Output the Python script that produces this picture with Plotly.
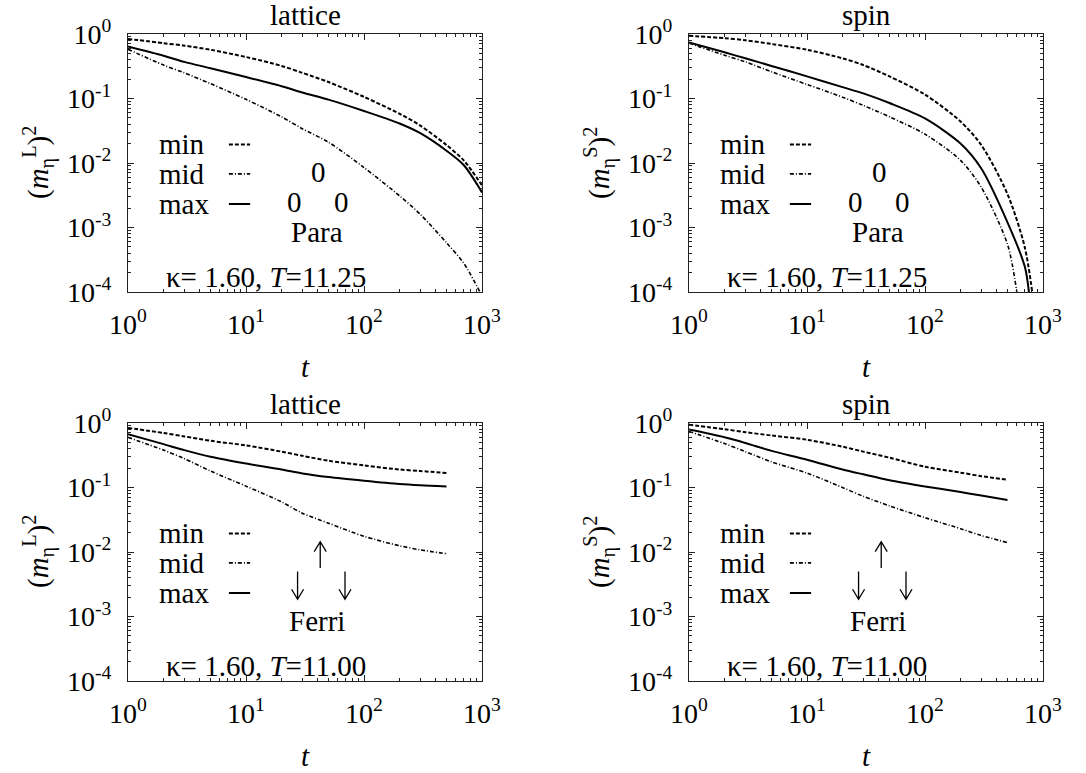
import plotly.graph_objects as go

# time steps (t) and squared order parameters
t_para = [1, 2, 3, 5, 10, 20, 30, 50, 100, 200, 300, 500, 700, 1000]
lat_para_min = [0.84, 0.72, 0.66, 0.57, 0.44, 0.32, 0.25, 0.18, 0.106, 0.058, 0.038, 0.019, 0.011, 0.0045]
lat_para_max = [0.64, 0.46, 0.37, 0.295, 0.215, 0.155, 0.124, 0.096, 0.064, 0.041, 0.029, 0.0155, 0.0093, 0.0035]
t_lat_para_mid = [1, 2, 3, 5, 10, 20, 30, 50, 100, 200, 300, 500, 700, 960]
lat_para_mid = [0.58, 0.33, 0.25, 0.17, 0.097, 0.052, 0.034, 0.021, 0.0085, 0.0031, 0.0016, 0.00058, 0.00028, 0.0001]

t_spin_para_min = [1, 2, 3, 5, 10, 20, 30, 50, 100, 200, 300, 500, 700, 810]
spin_para_min = [0.94, 0.86, 0.8, 0.7, 0.57, 0.42, 0.33, 0.22, 0.115, 0.044, 0.019, 0.0033, 0.0005, 0.0001]
t_spin_para_max = [1, 2, 3, 5, 10, 20, 30, 50, 100, 200, 300, 500, 700, 760]
spin_para_max = [0.74, 0.52, 0.42, 0.32, 0.22, 0.15, 0.12, 0.085, 0.049, 0.02, 0.0082, 0.0012, 0.00025, 0.0001]
t_spin_para_mid = [1, 2, 3, 5, 10, 20, 30, 50, 100, 200, 300, 500, 600]
spin_para_mid = [0.72, 0.47, 0.37, 0.26, 0.165, 0.105, 0.078, 0.052, 0.028, 0.011, 0.0042, 0.00055, 0.0001]

t_ferri = [1, 2, 3, 5, 10, 20, 30, 50, 100, 200, 300, 500]
lat_ferri_min = [0.84, 0.7, 0.62, 0.53, 0.45, 0.36, 0.31, 0.26, 0.22, 0.19, 0.18, 0.168]
lat_ferri_max = [0.67, 0.47, 0.38, 0.3, 0.235, 0.19, 0.165, 0.145, 0.127, 0.113, 0.108, 0.104]
lat_ferri_mid = [0.6, 0.38, 0.28, 0.18, 0.105, 0.06, 0.04, 0.028, 0.0175, 0.0125, 0.0108, 0.0094]
spin_ferri_min = [0.94, 0.8, 0.72, 0.64, 0.55, 0.43, 0.36, 0.29, 0.21, 0.17, 0.15, 0.132]
spin_ferri_max = [0.79, 0.6, 0.49, 0.37, 0.27, 0.19, 0.16, 0.13, 0.104, 0.085, 0.075, 0.064]
spin_ferri_mid = [0.74, 0.48, 0.36, 0.25, 0.167, 0.1, 0.073, 0.052, 0.034, 0.023, 0.018, 0.014]

x_ticks = [1, 10, 100, 1000]
x_ticktext = ["10<sup>0</sup>", "10<sup>1</sup>", "10<sup>2</sup>", "10<sup>3</sup>"]
y_ticks = [1, 0.1, 0.01, 0.001, 0.0001]
y_ticktext = ["10<sup>0</sup>", "10<sup>-1</sup>", "10<sup>-2</sup>", "10<sup>-3</sup>", "10<sup>-4</sup>"]
x_minor = [m * 10 ** d for d in range(3) for m in range(2, 10)]
y_minor = [m * 10.0 ** d for d in range(-4, 0) for m in range(2, 10)]

FONT = "Liberation Serif"
styles = {
    "min": dict(color="black", width=2, dash="4px,2px"),
    "mid": dict(color="black", width=1.6, dash="4px,2px,1px,2px"),
    "max": dict(color="black", width=2),
}

panels = [
    # (axis suffix, title, y-label letter, phase, T, series)
    ("", "lattice", "L", "Para", "11.25",
     [(t_para, lat_para_min, "min"), (t_lat_para_mid, lat_para_mid, "mid"), (t_para, lat_para_max, "max")]),
    ("2", "spin", "S", "Para", "11.25",
     [(t_spin_para_min, spin_para_min, "min"), (t_spin_para_mid, spin_para_mid, "mid"), (t_spin_para_max, spin_para_max, "max")]),
    ("3", "lattice", "L", "Ferri", "11.00",
     [(t_ferri, lat_ferri_min, "min"), (t_ferri, lat_ferri_mid, "mid"), (t_ferri, lat_ferri_max, "max")]),
    ("4", "spin", "S", "Ferri", "11.00",
     [(t_ferri, spin_ferri_min, "min"), (t_ferri, spin_ferri_mid, "mid"), (t_ferri, spin_ferri_max, "max")]),
]

W, H = 1086, 773
PW, PH = 354, 258  # plot box size in px
x_domains = [[128 / W, 482 / W], [689 / W, 1043 / W]]
y_domains = [[1 - 292 / H, 1 - 34 / H], [1 - 681 / H, 1 - 423 / H]]

fig = go.Figure()
annotations = []
shapes = []
layout = {}


def label(text, xref, yref, x, y, font, **kw):
    d = dict(text=text, xref=xref, yref=yref, x=x, y=y, showarrow=False, font=font,
             xanchor="center", yanchor="middle")
    d.update(kw)
    annotations.append(d)


def arrow(xd, yd, x, y_tail, y_tip):
    # thin arrow glyph drawn as a path in the panel's domain coordinates
    hx, hy = 6 / PW, 10 / PH
    hy = hy if y_tip < y_tail else -hy
    path = "M %f,%f L %f,%f M %f,%f L %f,%f L %f,%f" % (
        x, y_tail, x, y_tip, x - hx, y_tip + hy, x, y_tip, x + hx, y_tip + hy)
    shapes.append(dict(type="path", xref=xd, yref=yd, path=path, line=dict(color="black", width=1.3)))


for i, (sfx, title, letter, phase, temp, series) in enumerate(panels):
    col, row = i % 2, i // 2
    xa, ya = "x" + sfx, "y" + sfx
    for tt, mm, name in series:
        fig.add_trace(go.Scatter(x=tt, y=mm, mode="lines", line=dict(styles[name], shape="spline", smoothing=0.8),
                                 xaxis=xa, yaxis=ya, showlegend=False, hoverinfo="skip"))

    common = dict(type="log", showline=True, linecolor="#222", linewidth=1, mirror="allticks",
                  ticks="inside", ticklen=6, tickcolor="#222", showgrid=False, zeroline=False,
                  automargin=False, tickfont=dict(family=FONT, size=28, color="black"))
    layout["xaxis" + sfx] = dict(common, domain=x_domains[col], range=[0, 3], anchor=ya,
                                 tickvals=x_ticks, ticktext=x_ticktext, ticklabelstandoff=7,
                                 minor=dict(ticks="inside", ticklen=3, tickcolor="#222", tickvals=x_minor))
    layout["yaxis" + sfx] = dict(common, domain=y_domains[row], range=[-4, 0], anchor=xa,
                                 tickvals=y_ticks, ticktext=y_ticktext, ticklabelstandoff=10,
                                 minor=dict(ticks="inside", ticklen=3, tickcolor="#222", tickvals=y_minor))

    xd, yd = xa + " domain", ya + " domain"
    txt = dict(family=FONT, size=29, color="black")
    # panel title and axis labels
    label(title, xd, yd, 0.5, 1.0, txt, yshift=19)
    label("<i>t</i>", xd, yd, 0.5, 0.0, txt, yshift=-75)
    label("(<i>m</i><sub>η</sub><sup>%s</sup>)<sup>2</sup>" % letter, "paper", yd,
          (38 + 561 * col) / W, 0.5, txt, textangle=-90)
    # key
    for name, yk in zip(["min", "mid", "max"], [0.572, 0.458, 0.341]):
        label(name, xd, yd, 0.082, yk, txt, xanchor="left")
        shapes.append(dict(type="line", xref=xd, yref=yd, x0=0.285, x1=0.345, y0=yk, y1=yk,
                           line=styles[name]))
    # spin configuration sketch
    if phase == "Para":
        for xm, ym in [(0.538, 0.465), (0.47, 0.35), (0.603, 0.35)]:
            label("0", xd, yd, xm, ym, txt)
    else:
        arrow(xd, yd, 0.543, 0.438, 0.54)
        arrow(xd, yd, 0.479, 0.424, 0.317)
        arrow(xd, yd, 0.613, 0.424, 0.317)
    label(phase, xd, yd, 0.535, 0.232, txt)
    label("κ= 1.60, <i>T</i>=%s" % temp, xd, yd, 0.39, 0.058, txt)

fig.update_layout(
    width=W, height=H,
    margin=dict(l=0, r=0, t=0, b=0),
    plot_bgcolor="white", paper_bgcolor="white",
    showlegend=False,
    annotations=annotations,
    shapes=shapes,
    **layout
)

fig.write_html("out.html", config={"displayModeBar": False},
               post_script="document.body.style.margin='0px';")
